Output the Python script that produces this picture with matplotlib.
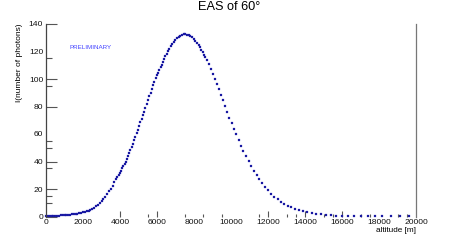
import numpy as np
import matplotlib
matplotlib.use('Agg')
import matplotlib.pyplot as plt

# values
altitude_m = [
    0, 100, 200, 300, 400, 500, 600, 700, 800, 900,
    1000, 1100, 1200, 1300, 1400, 1500, 1600, 1700, 1800, 1900,
    2000, 2100, 2200, 2300, 2400, 2500, 2600, 2700, 2800, 2900,
    3000, 3100, 3200, 3300, 3400, 3500, 3600, 3700,
    3800, 3850, 3930, 3980, 4050, 4120, 4180, 4250, 4310, 4380,
    4440, 4500, 4560, 4630, 4690, 4760, 4830, 4900, 4970, 5040,
    5100, 5170, 5230, 5300, 5370, 5440, 5510, 5580, 5650, 5720,
    5790, 5860, 5930, 6000, 6070, 6130,
    6200, 6260, 6320, 6380, 6450, 6520, 6590, 6660, 6740, 6830,
    6900, 6990, 7080, 7170, 7260, 7350, 7440, 7530, 7620, 7710,
    7800, 7890, 7980, 8070, 8160, 8250, 8320, 8390, 8470, 8540, 8610,
    8690, 8790, 8900, 9010, 9120, 9230, 9340, 9460, 9570, 9680,
    9800, 9910, 10040, 10160, 10290, 10420, 10540, 10660, 10810, 10960, 11080,
    11260, 11390, 11530, 11690, 11850, 12020, 12180, 12340, 12520, 12700,
    12880, 13080, 13260, 13480, 13690, 13910, 14120, 14360, 14610, 14850,
    15140, 15420, 15690,
    15980, 16340, 16660, 17010, 17390, 17780, 18180, 18630, 19140, 19620,
]
photons = [
    0.37, 0.4, 0.43, 0.47, 0.52, 0.57, 0.63, 0.7, 0.78, 0.85,
    0.95, 1.05, 1.2, 1.35, 1.5, 1.7, 1.9, 2.15, 2.4, 2.7,
    3.0, 3.4, 3.8, 4.3, 4.9, 5.6, 6.4, 7.3, 8.4, 9.6,
    11.0, 12.6, 14.3, 16.2, 18.2, 20.3, 22.5, 24.8,
    27.2, 28.4, 30.1, 31.6, 33.2, 35.0, 36.6, 38.3, 40.0, 41.9,
    43.9, 46.0, 48.3, 50.7, 52.8, 55.3, 57.9, 60.4, 62.8, 65.7,
    68.4, 71.0, 73.7, 76.3, 79.0, 81.9, 84.6, 87.4, 90.1, 92.8,
    95.5, 98.0, 100.4, 102.6, 104.7, 106.6,
    108.5, 110.5, 112.5, 114.4, 116.5, 118.5, 120.3, 122.0, 123.8, 125.6,
    127.0, 128.5, 129.8, 130.8, 131.6, 132.1, 132.4, 132.5, 132.3, 131.9,
    131.2, 130.3, 129.2, 127.9, 126.3, 124.6, 123.0, 121.4, 119.5, 117.7, 115.7,
    113.6, 110.7, 107.5, 103.9, 100.3, 96.7, 92.5, 88.7, 84.5, 80.7,
    76.3, 72.0, 68.1, 63.7, 59.9, 55.5, 51.4, 47.8, 43.9, 40.1, 36.7,
    33.2, 30.1, 27.0, 24.3, 21.4, 19.0, 16.5, 14.4, 12.5, 10.7,
    9.1, 7.8, 6.7, 5.4, 4.5, 3.8, 3.3, 2.5, 2.0, 1.6,
    1.1, 0.9, 0.4,
    0.35, 0.3, 0.25, 0.2, 0.2, 0.15, 0.15, 0.1, 0.1, 0.1,
]
x_ticks = [0, 2000, 4000, 6000, 8000, 10000, 12000, 14000, 16000, 18000, 20000]
y_ticks = [0, 20, 40, 60, 80, 100, 120, 140]

plt.rcParams['font.family'] = ['Liberation Sans', 'DejaVu Sans']

fig = plt.figure(figsize=(4.63, 2.41), dpi=100)
ax = fig.add_axes([46/463, 1 - 216.5/241, 370/463, 192.5/241])

ax.plot(altitude_m, photons, ls='none', marker='s', ms=1.9, mew=0.2,
        mec='#3a3ac0', color='#0c0c96', clip_on=False)

ax.set_xlim(0, 20000)
ax.set_ylim(0, 140)
ax.set_xticks(x_ticks)
ax.set_xticklabels([str(v) for v in x_ticks])
ax.set_yticks(y_ticks)
ax.set_yticklabels([str(v) for v in y_ticks])
ax.set_xticks([5500, 7500, 8500, 9500, 11500, 13000, 13500, 15000, 15500, 17000, 17500, 19000, 19500], minor=True)
ax.set_yticks([10, 15, 35, 50, 55, 95, 115], minor=True)

ax.tick_params(axis='both', which='both', direction='in', colors='#555555', labelcolor='#111111',
               labelsize=6.1, width=0.8)
ax.tick_params(axis='y', which='major', length=8, pad=2)
ax.tick_params(axis='y', which='minor', length=4)
ax.tick_params(axis='x', which='major', length=4.5, pad=1.8)
ax.tick_params(axis='x', which='minor', length=2.5)

# ROOT-like sparse tick marks
for t, v in zip(ax.yaxis.get_major_ticks(), y_ticks):
    if v in (60, 120):
        t.tick1line.set_visible(False)
for t, v in zip(ax.xaxis.get_major_ticks(), x_ticks):
    if v not in (4000, 6000, 12000, 14000, 16000):
        t.tick1line.set_visible(False)

for s in ('top', 'bottom'):
    ax.spines[s].set_visible(False)
ax.spines['left'].set_color('#444444')
ax.spines['right'].set_color('#777777')
ax.spines['left'].set_linewidth(0.9)
ax.spines['right'].set_linewidth(0.9)

fig.text(229/463, 1 - 7.5/241, 'EAS of 60\u00b0', ha='center', va='center', fontsize=9.2)
fig.text(20/463, 1 - 23/241, 'I(number of photons)', rotation=90, ha='center', va='top', fontsize=6)
fig.text(416/463, 1 - 230/241, 'altitude [m]', ha='right', va='center', fontsize=5.9)
ax.text(1250, 123, 'PRELIMINARY', color='#4444ff', fontsize=4.5, ha='left', va='center')

fig.savefig('out.png', dpi=100)
